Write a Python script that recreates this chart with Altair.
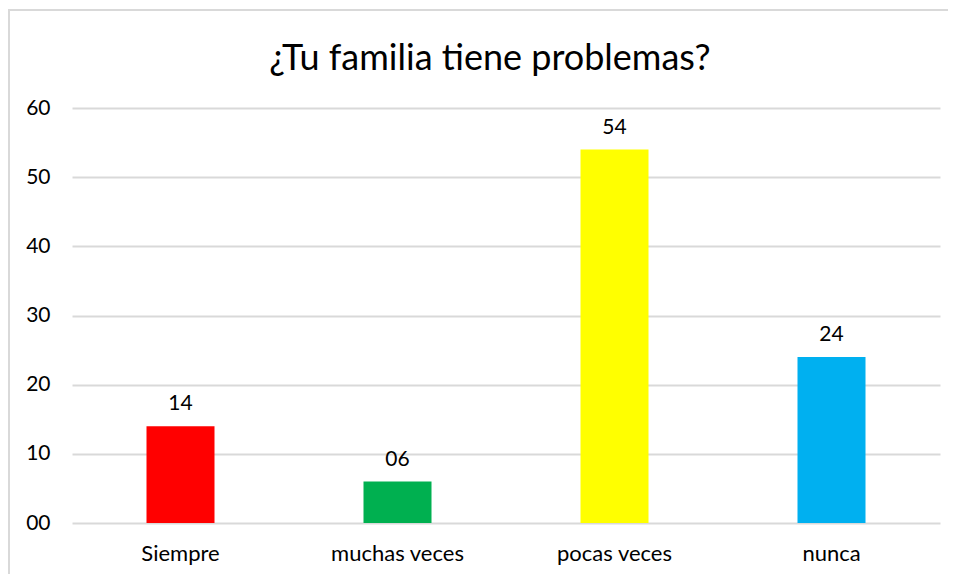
import altair as alt
import pandas as pd

categories = ["Siempre", "muchas veces", "pocas veces", "nunca"]
values = [14, 6, 54, 24]
colors = ["#ff0000", "#00b050", "#ffff00", "#00b0f0"]
y_ticks = [0, 10, 20, 30, 40, 50, 60]

df = pd.DataFrame({"cat": categories, "val": values, "color": colors})

FONT = "Lato"

base = alt.Chart(df).encode(
    x=alt.X("cat:N", sort=categories, title=None,
            scale=alt.Scale(paddingInner=0, paddingOuter=0),
            axis=alt.Axis(labelAngle=0, ticks=False, domain=False, grid=False,
                          labelFont=FONT, labelFontSize=22, labelColor="#000000",
                          labelPadding=20)),
)

bars = base.mark_bar(size=68).encode(
    y=alt.Y("val:Q", title=None,
            scale=alt.Scale(domain=[0, 60], nice=False),
            axis=alt.Axis(values=y_ticks, format="02d", ticks=False, domain=False,
                          grid=True, gridColor="#d9d9d9", gridWidth=2,
                          labelFont=FONT, labelFontSize=21, labelColor="#000000",
                          labelPadding=22)),
    color=alt.Color("color:N", scale=None, legend=None),
)

labels = base.mark_text(baseline="bottom", dy=-12, font=FONT, fontSize=21,
                        color="#000000").encode(
    y=alt.Y("val:Q"),
    text=alt.Text("val:Q", format="02d"),
)

border = alt.Chart(alt.Data(values=[{}])).mark_rect(
    fill=None, stroke="#d9d9d9", strokeWidth=2
).encode(
    x=alt.value(-63), y=alt.value(-98), x2=alt.value(1100), y2=alt.value(1100)
)

chart = alt.layer(border, bars, labels).properties(
    width=868, height=415,
    autosize=alt.AutoSizeParams(type="none"),
    padding={"left": 64, "top": 100, "right": 8, "bottom": 51},
    title=alt.TitleParams("¿Tu familia tiene problemas?", font=FONT, fontSize=36,
                          fontWeight="normal", color="#000000", anchor="middle",
                          baseline="alphabetic", offset=41, dx=-16, dy=138),
).configure_view(stroke=None)

chart.save("out.html", embed_options={"renderer": "svg", "actions": False})
